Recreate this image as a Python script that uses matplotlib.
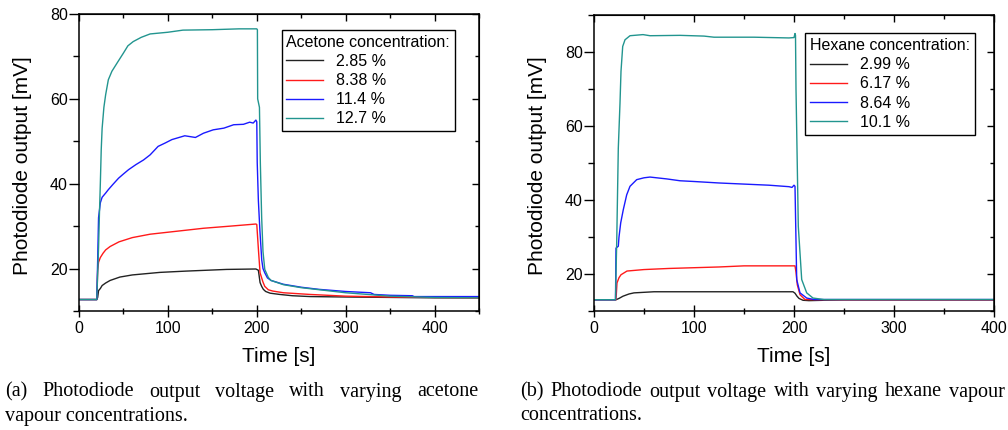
import numpy as np
import matplotlib
matplotlib.use('Agg')
import matplotlib.pyplot as plt
from matplotlib.ticker import MultipleLocator, NullFormatter

plt.rcParams['font.family'] = ['Liberation Sans', 'DejaVu Sans']

# --- acetone run (left panel): time [s], output [mV] ---
ace_labels = ['2.85 %', '8.38 %', '11.4 %', '12.7 %']
ace_t1 = [0, 20, 21, 22, 24, 26, 30, 35, 46, 60, 91, 120, 166, 199, 201.8, 203.7, 205.5, 207.4,
          210, 215, 226, 240, 260, 300, 350, 400, 450]
ace_v1 = [12.7, 12.7, 13.2, 14.8, 15.3, 16.0, 16.6, 17.2, 18.0, 18.5, 19.1, 19.4, 19.8, 19.9, 19.6,
          16.7, 15.8, 15.1, 14.6, 14.2, 13.9, 13.6, 13.4, 13.3, 13.2, 13.1, 13.1]
ace_t2 = [0, 20, 20.5, 21, 22, 24, 27, 30, 35, 45, 60, 80, 110, 140, 170, 199, 200, 202, 203.7,
          207, 209, 213, 218, 230, 260, 300, 350, 400, 450]
ace_v2 = [12.7, 12.7, 16.0, 19.5, 21.5, 22.6, 23.6, 24.4, 25.2, 26.3, 27.3, 28.1, 28.8, 29.5, 30.0,
          30.5, 30.4, 24.0, 19.0, 16.8, 15.8, 15.0, 14.7, 14.3, 13.9, 13.5, 13.3, 13.2, 13.1]
ace_t3 = [0, 20, 21, 22, 24, 26, 30, 33, 38, 44.5, 50, 55.7, 64, 72.6, 80, 89, 97, 104.5, 119, 131,
          140, 151, 163, 174, 185, 192, 196, 199, 200, 200.5, 201.8, 203.5, 205.6, 207, 209, 212,
          216, 230, 250, 270, 300, 328, 332, 350, 375, 377, 450]
ace_v3 = [12.7, 12.7, 22.0, 32.0, 35.5, 36.8, 37.8, 38.6, 39.8, 41.3, 42.3, 43.3, 44.5, 45.6, 46.8,
          48.8, 49.6, 50.4, 51.3, 50.9, 51.9, 52.7, 53.1, 53.9, 54.0, 54.5, 54.3, 55.0, 54.6, 45.0,
          36.0, 29.0, 22.0, 20.0, 19.0, 17.8, 17.2, 16.3, 15.6, 15.1, 14.6, 14.3, 13.9, 13.7, 13.6,
          13.4, 13.4]
ace_t4 = [0, 20, 22, 23, 24, 25, 26, 28, 30, 33, 37, 43, 50, 55, 61, 70, 80, 90, 100, 117, 150,
          180, 200, 200.7, 201, 203, 204, 205.5, 207, 209, 213, 216, 230, 250, 275, 300, 325, 350,
          400, 450]
ace_v4 = [12.7, 12.7, 25.0, 33.0, 40.0, 48.0, 53.0, 58.0, 61.0, 64.5, 66.5, 68.5, 70.8, 72.5, 73.5,
          74.5, 75.3, 75.5, 75.7, 76.2, 76.3, 76.5, 76.5, 76.3, 60.0, 58.0, 45.0, 32.0, 24.0, 19.8,
          17.9, 17.2, 16.2, 15.5, 14.9, 14.3, 13.9, 13.5, 13.2, 13.1]

# --- hexane run (right panel) ---
hex_labels = ['2.99 %', '6.17 %', '8.64 %', '10.1 %']
hex_t1 = [0, 22, 25, 29, 35, 40, 60, 100, 150, 199, 201, 203, 205, 209, 215, 230, 250, 400]
hex_v1 = [13.05, 13.05, 13.4, 14.0, 14.6, 14.9, 15.2, 15.2, 15.2, 15.2, 14.8, 14.0, 13.4, 12.9,
          12.8, 12.9, 13.0, 13.0]
hex_t2 = [0, 22, 23, 25, 27, 33, 50, 75, 100, 125, 150, 175, 201, 202, 203.3, 206, 211, 250, 400]
hex_v2 = [13.05, 13.05, 17.6, 19.0, 19.8, 20.8, 21.2, 21.5, 21.7, 21.9, 22.2, 22.2, 22.2, 20.5,
          17.1, 14.4, 13.1, 13.0, 13.0]
hex_t3 = [0, 21.5, 22, 24.3, 25, 26.7, 29.3, 32.7, 36, 42.7, 50, 56, 72.7, 86, 100, 125, 150, 175,
          195, 198, 200, 201, 202.7, 206, 212.7, 220, 400]
hex_v3 = [13.05, 13.05, 27.0, 27.5, 30.0, 33.8, 37.4, 41.4, 43.7, 45.5, 46.0, 46.2, 45.7, 45.2,
          45.0, 44.6, 44.3, 44.0, 43.6, 43.4, 44.0, 43.7, 18.5, 14.9, 13.5, 13.1, 13.1]
hex_t4 = [0, 21.5, 22, 22.7, 24.3, 26, 27, 28.7, 31, 36, 49, 56, 86, 110, 120, 160, 195, 200, 201,
          201.5, 202, 204.3, 207.7, 212.7, 219, 230, 400]
hex_v4 = [13.05, 13.05, 20.0, 28.4, 54.0, 66.2, 74.8, 81.5, 83.3, 84.4, 84.7, 84.4, 84.5, 84.3,
          84.0, 84.0, 83.8, 83.9, 85.0, 84.5, 70.0, 32.9, 18.5, 14.9, 13.5, 13.1, 13.1]

colors = ['#222222', '#ff1a1a', '#1a1aff', '#22958f']


def set_locators(axis):
    axis.set_major_locator(MultipleLocator(100 if axis.axis_name == 'x' else 20))
    axis.set_minor_locator(MultipleLocator(50 if axis.axis_name == 'x' else 10))


def style_axes(ax, xmax, ymin, ymax):
    ax.set_xlim(0, xmax)
    ax.set_ylim(ymin, ymax)
    set_locators(ax.xaxis)
    set_locators(ax.yaxis)
    ax.tick_params(which='both', top=False, right=False, labelsize=11.5, width=1)
    ax.tick_params(axis='x', which='both', direction='inout')
    ax.tick_params(axis='x', which='major', length=8, pad=3)
    ax.tick_params(axis='y', which='both', direction='out')
    ax.tick_params(axis='y', which='major', length=7, pad=1)
    ax.tick_params(which='minor', length=4.5)
    # top and right: inward ticks, no labels
    top = ax.secondary_xaxis('top')
    right = ax.secondary_yaxis('right')
    set_locators(top.xaxis)
    set_locators(right.yaxis)
    top.xaxis.set_major_formatter(NullFormatter())
    right.yaxis.set_major_formatter(NullFormatter())
    for sec in (top, right):
        sec.tick_params(which='both', direction='in', width=1)
        sec.tick_params(which='major', length=5)
        sec.tick_params(which='minor', length=3)
    for sp in ax.spines.values():
        sp.set_linewidth(1.1)
    ax.set_xlabel('Time [s]', fontsize=15)
    ax.set_ylabel('Photodiode output [mV]', fontsize=15)
    ax.xaxis.set_label_coords(0.5, -0.12)
    ax.yaxis.set_label_coords(-0.1175, 0.49)


fig = plt.figure(figsize=(10.08, 4.30), dpi=100)
W, H = 1008, 430

ax1 = fig.add_axes([79 / W, 1 - 311 / H, 400 / W, 297 / H])
ace = [(ace_t1, ace_v1), (ace_t2, ace_v2), (ace_t3, ace_v3), (ace_t4, ace_v4)]
for (t, v), c, lab in zip(ace, colors, ace_labels):
    ax1.plot(t, v, color=c, lw=1.0, label=lab)
style_axes(ax1, 450, 10, 80)

ax2 = fig.add_axes([594 / W, 1 - 311 / H, 400 / W, 296 / H])
hexa = [(hex_t1, hex_v1), (hex_t2, hex_v2), (hex_t3, hex_v3), (hex_t4, hex_v4)]
for (t, v), c, lab in zip(hexa, colors, hex_labels):
    ax2.plot(t, v, color=c, lw=1.0, label=lab)
style_axes(ax2, 400, 10, 90)

for ax, title, anchor in [(ax1, 'Acetone concentration:', (0.94, 0.946)),
                          (ax2, 'Hexane concentration:', (0.9525, 0.938))]:
    leg = ax.legend(title=title, loc='upper right', bbox_to_anchor=anchor, borderaxespad=0,
                    fontsize=11.5, title_fontsize=11.5, fancybox=False, framealpha=1,
                    edgecolor='black', handlelength=2.3, handletextpad=0.8,
                    labelspacing=0.26, borderpad=0.3, alignment='left')
    leg.get_frame().set_linewidth(1.0)
    for hl in leg.get_lines():
        hl.set_linewidth(1.0)


def justify(words, x0, x1, y, size):
    # spread words evenly between x0 and x1 (pixel coords)
    r = fig.canvas.get_renderer()
    texts, widths = [], []
    for w in words:
        t = fig.text(0, y / H, w, fontsize=size, family='Liberation Serif', va='center')
        texts.append(t)
        widths.append(t.get_window_extent(r).width)
    gap = (x1 - x0 - sum(widths)) / (len(words) - 1)
    x = x0
    for t, w in zip(texts, widths):
        t.set_x(x / W)
        x += w + gap


cap = 14.5
justify('(a) Photodiode output voltage with varying acetone'.split(), 5, 478, H - 392, cap)
fig.text(5 / W, 1 - 416 / H, 'vapour concentrations.', fontsize=cap, family='Liberation Serif',
         va='center')
justify('(b) Photodiode output voltage with varying hexane vapour'.split(), 520, 1005, H - 392, cap)
fig.text(520 / W, 1 - 416 / H, 'concentrations.', fontsize=cap, family='Liberation Serif',
         va='center')

fig.savefig('out.png', dpi=100)
